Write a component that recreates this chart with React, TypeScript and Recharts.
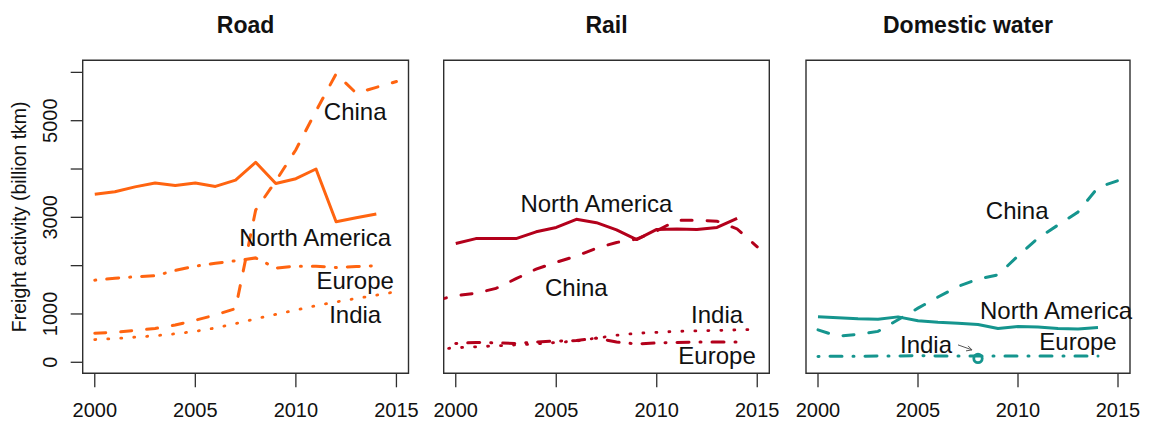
import { LineChart, Line, XAxis, YAxis, ReferenceArea, ReferenceDot } from 'recharts'

// years shown on each panel
const roadYears = [2000, 2001, 2002, 2003, 2004, 2005, 2006, 2007, 2008, 2009, 2010, 2011, 2012, 2013, 2014, 2015]
const railYears = [1999, 2000, 2001, 2002, 2003, 2004, 2005, 2006, 2007, 2008, 2009, 2010, 2011, 2012, 2013, 2014, 2015]
const waterYears = [2000, 2001, 2002, 2003, 2004, 2005, 2006, 2007, 2008, 2009, 2010, 2011, 2012, 2013, 2014, 2015]

// Road, billion tkm
const roadNorthAmerica = [3480, 3530, 3630, 3710, 3660, 3710, 3640, 3770, 4140, 3700, 3800, 4000, 2910, 2990, 3070]
const roadChina = [600, 620, 660, 700, 770, 870, 980, 1110, 3150, 3750, 4400, 5200, 5970, 5570, 5690, 5810]
const roadEurope = [1700, 1740, 1770, 1790, 1900, 1990, 2050, 2100, 2160, 1950, 1990, 1990, 1960, 1980, 2000]
const roadIndia = [470, 490, 520, 550, 590, 640, 710, 800, 900, 990, 1080, 1170, 1250, 1320, 1390, 1460]

// Rail (first entry = 1999)
const railNorthAmerica = [null, 2460, 2560, 2560, 2560, 2700, 2790, 2960, 2890, 2740, 2540, 2750, 2760, 2750, 2790, 2980]
const railChina = [1280, 1380, 1430, 1530, 1730, 1930, 2070, 2200, 2360, 2480, 2550, 2720, 2940, 2940, 2920, 2760, 2390]
const railEurope = [null, 390, 410, 400, 390, 420, 440, 450, 500, 420, 380, 400, 410, 420, 420, 420]
const railIndia = [270, 300, 320, 340, 360, 380, 410, 440, 500, 560, 600, 620, 640, 650, 660, 670, 680]

// Domestic water
const waterNorthAmerica = [940, 920, 900, 890, 940, 860, 830, 810, 780, 700, 740, 730, 700, 690, 720]
const waterChina = [670, 540, 580, 640, 880, 1120, 1350, 1570, 1720, 1810, 2200, 2570, 2840, 3110, 3620, 3760]
const waterEurope = [120, 125, 125, 130, 130, 135, 130, 130, 130, 130, 130, 130, 130, 130, 130]
// India has a single observation
const waterIndiaYears = [2008]
const waterIndia = [80]

const xTicks = [2000, 2005, 2010, 2015]
const yTicks = [0, 1000, 2000, 3000, 4000, 5000, 6000]
const yTickLabels = [0, 1000, 3000, 5000]

const X_DOMAIN: [number, number] = [1999.4, 2015.6]
const Y_DOMAIN: [number, number] = [-228, 6250]

const FONT = '"Liberation Sans", Arial, Helvetica, sans-serif'
const INK = '#111'
const FRAME = '#2e2e2e'

const DASHED = '11 15'
const DOTTED = '1 12'
const DOTDASH = '1 11 12 11'

const toRows = (years: number[], series: Record<string, (number | null)[]>) =>
  years.map((year, i) => {
    const row: Record<string, number | null> = { year }
    Object.entries(series).forEach(([k, v]) => {
      row[k] = v[i] ?? null
    })
    return row
  })

const roadData = toRows(roadYears, { na: roadNorthAmerica, china: roadChina, europe: roadEurope, india: roadIndia })
const railData = toRows(railYears, { na: railNorthAmerica, china: railChina, europe: railEurope, india: railIndia })
const waterData = toRows(waterYears, { na: waterNorthAmerica, china: waterChina, europe: waterEurope })

function XTick(props: any) {
  const { x, y, payload } = props
  return (
    <g>
      <line x1={x} y1={y} x2={x} y2={y + 14} stroke={FRAME} strokeWidth={1.3} />
      <text x={x} y={y + 44} textAnchor="middle" fontSize={20} fill={INK}>
        {payload.value}
      </text>
    </g>
  )
}

function YTick(props: any) {
  const { x, y, payload } = props
  return (
    <g>
      <line x1={x - 12} y1={y} x2={x} y2={y} stroke={FRAME} strokeWidth={1.3} />
      {yTickLabels.includes(payload.value) && (
        <text transform={`translate(${x - 26},${y}) rotate(-90)`} textAnchor="middle" fontSize={20} fill={INK}>
          {payload.value}
        </text>
      )}
    </g>
  )
}

interface Note {
  text: string
  x: number
  y: number
  anchor?: 'start' | 'middle'
  arrow?: boolean
}

interface PanelProps {
  left: number
  width: number
  marginLeft: number
  marginRight: number
  showY: boolean
  data: Record<string, number | null>[]
  color: string
  notes: Note[]
  points?: { x: number; y: number }[]
}

function Panel({ left, width, marginLeft, marginRight, showY, data, color, notes, points }: PanelProps) {
  return (
    <div style={{ position: 'absolute', left, top: 0 }}>
      <LineChart
        width={width}
        height={421}
        data={data}
        margin={{ top: 60.3, right: marginRight, bottom: 17.7, left: marginLeft }}
      >
        <XAxis
          type="number"
          dataKey="year"
          domain={X_DOMAIN}
          ticks={xTicks}
          interval={0}
          allowDataOverflow
          axisLine={false}
          tickLine={false}
          tickSize={0}
          tickMargin={0}
          height={30}
          tick={(p: any) => <XTick {...p} />}
        />
        <YAxis
          type="number"
          domain={Y_DOMAIN}
          ticks={yTicks}
          interval={0}
          allowDataOverflow
          hide={!showY}
          width={60}
          axisLine={false}
          tickLine={false}
          tickSize={0}
          tickMargin={0}
          tick={(p: any) => <YTick {...p} />}
        />
        <Line dataKey="india" stroke={color} strokeWidth={2.8} strokeDasharray={DOTTED} strokeLinecap="round" dot={false} isAnimationActive={false} />
        <Line dataKey="europe" stroke={color} strokeWidth={3} strokeDasharray={DOTDASH} strokeLinecap="round" dot={false} isAnimationActive={false} />
        <Line dataKey="china" stroke={color} strokeWidth={3} strokeDasharray={DASHED} strokeLinecap="round" dot={false} isAnimationActive={false} />
        <Line dataKey="na" stroke={color} strokeWidth={3} strokeLinejoin="round" dot={false} isAnimationActive={false} />
        {(points ?? []).map((pt) => (
          <ReferenceDot key={`pt-${pt.x}`} x={pt.x} y={pt.y} r={4.2} fill="none" stroke={color} strokeWidth={2.8} />
        ))}
        {notes.map((n) => (
          <ReferenceDot
            key={n.text}
            x={n.x}
            y={n.y}
            r={1}
            ifOverflow="hidden"
            shape={(p: any) => (
              <g>
                <text x={p.cx} y={p.cy} dy="0.35em" textAnchor={n.anchor ?? 'middle'} fontSize={24} fill={INK}>
                  {n.text}
                </text>
                {n.arrow && (
                  <g stroke="#555" strokeWidth={1} fill="none">
                    <line x1={p.cx + 32} y1={p.cy} x2={p.cx + 46} y2={p.cy + 5} />
                    <polyline points={`${p.cx + 40},${p.cy + 6} ${p.cx + 46},${p.cy + 5} ${p.cx + 42},${p.cy + 1}`} />
                  </g>
                )}
              </g>
            )}
          />
        ))}
        <ReferenceArea x1={X_DOMAIN[0]} x2={X_DOMAIN[1]} y1={Y_DOMAIN[0]} y2={Y_DOMAIN[1]} fill="none" stroke={FRAME} strokeWidth={1.4} />
      </LineChart>
    </div>
  )
}

export default function App() {
  return (
    <div style={{ position: 'absolute', left: 0, top: 0, width: 1149, height: 421, background: '#fff', fontFamily: FONT }}>
      <Panel
        left={0}
        width={420}
        marginLeft={22.7}
        marginRight={11.5}
        showY
        data={roadData}
        color="#FF6410"
        notes={[
          { text: 'China', x: 2012.95, y: 5190 },
          { text: 'North America', x: 2010.96, y: 2590 },
          { text: 'Europe', x: 2012.95, y: 1690 },
          { text: 'India', x: 2012.95, y: 980 },
        ]}
      />
      <Panel
        left={430}
        width={350}
        marginLeft={13.7}
        marginRight={10.7}
        showY={false}
        data={railData}
        color="#B3001B"
        notes={[
          { text: 'North America', x: 2007.0, y: 3280 },
          { text: 'China', x: 2006.0, y: 1550 },
          { text: 'India', x: 2013.0, y: 980 },
          { text: 'Europe', x: 2013.0, y: 130 },
        ]}
      />
      <Panel
        left={790}
        width={359}
        marginLeft={16}
        marginRight={19}
        showY={false}
        data={waterData}
        color="#15958E"
        points={waterIndiaYears.map((x, i) => ({ x, y: waterIndia[i] }))}
        notes={[
          { text: 'China', x: 2009.96, y: 3140 },
          { text: 'North America', x: 2008.1, y: 1060, anchor: 'start' },
          { text: 'Europe', x: 2013.0, y: 430 },
          { text: 'India', x: 2005.4, y: 360, arrow: true },
        ]}
      />
      <svg width={1149} height={421} style={{ position: 'absolute', left: 0, top: 0, pointerEvents: 'none' }}>
        <g fontSize={23} fontWeight="bold" fill={INK} textAnchor="middle">
          <text x={245.6} y={33}>Road</text>
          <text x={606.5} y={33}>Rail</text>
          <text x={968} y={33}>Domestic water</text>
        </g>
        <text transform="translate(25.5,216.8) rotate(-90)" textAnchor="middle" fontSize={19.5} fill={INK}>
          Freight activity (billion tkm)
        </text>
      </svg>
    </div>
  )
}
